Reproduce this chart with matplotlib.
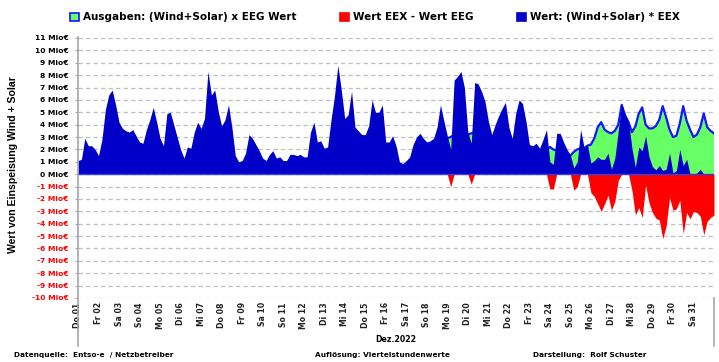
import numpy as np
import matplotlib.pyplot as plt
from matplotlib.patches import Rectangle
from matplotlib.lines import Line2D

nan = np.nan

### data (Mio EUR, 6 values per day = 4 h steps, Dez. 2022) ###
day_labels = ['Do 01', 'Fr 02', 'Sa 03', 'So 04', 'Mo 05', 'Di 06', 'Mi 07', 'Do 08',
              'Fr 09', 'Sa 10', 'So 11', 'Mo 12', 'Di 13', 'Mi 14', 'Do 15', 'Fr 16',
              'Sa 17', 'So 18', 'Mo 19', 'Di 20', 'Mi 21', 'Do 22', 'Fr 23', 'Sa 24',
              'So 25', 'Mo 26', 'Di 27', 'Mi 28', 'Do 29', 'Fr 30', 'Sa 31']
steps_per_day = 6

# Wert: (Wind+Solar) * EEX
eex_mio = [
    1.1, 1.2, 2.9, 2.3, 2.3, 2.0,
    1.5, 2.8, 5.2, 6.4, 6.8, 5.6,
    4.2, 3.7, 3.5, 3.4, 3.6, 3.1,
    2.6, 2.5, 3.6, 4.4, 5.4, 4.2,
    2.9, 2.3, 4.9, 5.0, 4.0, 3.0,
    2.0, 1.3, 2.2, 2.1, 3.4, 4.2,
    3.7, 4.5, 8.3, 6.4, 6.8, 5.1,
    3.9, 4.4, 5.6, 3.8, 1.5, 1.0,
    1.1, 1.7, 3.2, 2.9, 2.4, 1.9,
    1.3, 1.1, 1.6, 1.9, 1.3, 1.4,
    1.1, 1.1, 1.6, 1.6, 1.5, 1.6,
    1.4, 1.4, 3.4, 4.2, 2.6, 2.7,
    2.1, 2.2, 4.4, 6.3, 8.8, 6.8,
    4.5, 4.8, 6.7, 3.8, 3.5, 3.2,
    3.2, 3.9, 6.0, 5.0, 5.0, 5.6,
    2.6, 2.6, 3.1, 2.3, 1.0, 0.85,
    1.1, 1.4, 2.4, 3.0, 3.3, 2.9,
    2.6, 2.7, 2.9, 3.8, 5.6, 4.3,
    3.1, 2.0, 7.6, 7.9, 8.3, 7.0,
    3.4, 2.5, 7.4, 7.3, 6.7, 5.9,
    4.3, 3.2, 4.0, 4.7, 5.3, 5.8,
    3.8, 2.9, 4.9, 6.0, 5.7, 4.3,
    2.4, 2.3, 2.5, 2.1, 2.8, 3.6,
    1.0, 0.8, 3.3, 3.3, 2.6, 2.0,
    1.55, 0.5, 1.0, 3.6, 2.15, 2.35,
    0.9, 1.1, 1.4, 1.2, 1.2, 1.7,
    0.4, 1.3, 3.5, 5.7, 4.9, 4.3,
    2.1, 0.55, 2.2, 1.9, 3.1, 1.4,
    0.6, 0.35, 0.7, 0.3, 0.4, 1.7,
    0.1, 0.3, 2.0, 0.7, 1.2, 0.0,
    0.0, 0.1, 0.4, 0.0, 0.0, 0.0,
    0.0]

# Ausgaben: (Wind+Solar) x EEG Wert  (nan = hidden behind the blue area)
eeg_mio = [
    nan, nan, nan, nan, nan, nan,
    nan, nan, nan, nan, nan, nan,
    nan, nan, nan, nan, nan, nan,
    nan, nan, nan, nan, nan, nan,
    nan, nan, nan, nan, nan, nan,
    nan, nan, nan, nan, nan, nan,
    nan, nan, nan, nan, nan, nan,
    nan, nan, nan, nan, nan, nan,
    nan, nan, nan, nan, nan, nan,
    nan, nan, nan, nan, nan, nan,
    nan, nan, nan, nan, nan, nan,
    nan, nan, nan, nan, nan, nan,
    nan, nan, nan, nan, nan, nan,
    nan, nan, nan, nan, nan, nan,
    nan, nan, nan, nan, nan, nan,
    nan, nan, nan, nan, nan, nan,
    nan, nan, nan, nan, nan, nan,
    nan, nan, nan, nan, nan, nan,
    2.9, 3.0, 3.2, nan, nan, nan,
    3.2, 3.3, 3.4, nan, nan, nan,
    nan, nan, nan, nan, nan, nan,
    nan, nan, nan, nan, nan, nan,
    nan, nan, nan, 1.8, 1.8, 1.9,
    2.2, 2.0, 1.9, 1.8, 1.7, 1.6,
    1.5, 1.8, 2.0, 2.1, 2.1, 2.3,
    2.4, 2.9, 3.8, 4.2, 3.6, 3.4,
    3.3, 3.5, 4.0, 5.6, 4.7, 4.2,
    3.4, 3.85, 4.9, 5.4, 4.0, 3.7,
    3.7, 3.9, 4.4, 5.5, 4.6, 3.6,
    3.0, 3.1, 4.1, 5.5, 4.3, 3.6,
    3.0, 3.2, 3.8, 4.9, 3.8, 3.5,
    3.3]

ytick_vals = list(range(-10, 12))

### colours ###
c_blue = '#0000C8'
c_line = '#1414FF'
c_green = '#66FF66'
c_red = '#FF0000'
c_grid = '#BFBFBF'
c_axis = '#A6A6A6'

### program ###
t = np.arange(len(eex_mio)) / steps_per_day
eex = np.array(eex_mio)
eeg = np.array(eeg_mio)
diff = np.where(np.isnan(eeg), 0.0, np.minimum(eex - np.nan_to_num(eeg), 0.0))

fig = plt.figure(figsize=(7.19, 3.62), dpi=100)
ax = fig.add_axes([78/719, 1-298/362, (714-78)/719, (298-38)/362])

for v in ytick_vals:
    ax.axhline(v, color=c_grid, lw=0.9, ls=(0, (3.5, 2.5)), zorder=0)

ax.fill_between(t, 0, eeg, color=c_green, lw=0, zorder=1)
ax.plot(t, eeg, color=c_line, lw=1.6, zorder=2)
ax.fill_between(t, 0, eex, color=c_blue, lw=0, zorder=3)
ax.fill_between(t, 0, diff, color=c_red, lw=0, zorder=4)
ax.axhline(0, color='#3C3CD8', lw=1.0, zorder=5)

ax.set_xlim(0, len(day_labels))
ax.set_ylim(-10, 11)
for s in ['top', 'right', 'bottom', 'left']:
    ax.spines[s].set_visible(False)

ax.set_yticks(ytick_vals)
ax.set_yticklabels(['%d Mio€' % v for v in ytick_vals], fontsize=5.4, fontweight='bold')
for lab, v in zip(ax.get_yticklabels(), ytick_vals):
    lab.set_color(c_red if v < 0 else 'black')
ax.tick_params(axis='y', length=2, width=0.8, color=c_axis, pad=5)

ax.set_xticks(range(len(day_labels)))
ax.set_xticklabels(day_labels, rotation=90, fontsize=5.6, fontweight='bold', color='#222222')
ax.tick_params(axis='x', length=0, pad=3)

# axis frame lines like the original
fig.add_artist(Line2D([78/719, 78/719], [1-37/362, 1-346/362], color=c_axis, lw=1.2))
fig.add_artist(Line2D([714/719, 714/719], [1-298/362, 1-346/362], color=c_axis, lw=1.2))

fig.text(0.018, 1-165/362, 'Wert von Einspeisung Wind + Solar', rotation=90, ha='center',
         va='center', fontsize=7.6, fontweight='bold', family=['Liberation Sans', 'DejaVu Sans'])

# legend
leg = [(70, c_green, c_line, 'Ausgaben: (Wind+Solar) x EEG Wert'),
       (340, c_red, c_red, 'Wert EEX - Wert EEG'),
       (517, c_blue, c_blue, 'Wert: (Wind+Solar) * EEX')]
for x0, fc, ec, txt in leg:
    fig.add_artist(Rectangle((x0/719, 1-21/362), 9/719, 8/362, transform=fig.transFigure,
                             facecolor=fc, edgecolor=ec, lw=1.2))
    fig.text((x0+13)/719, 1-17/362, txt, ha='left', va='center', fontsize=7.5, fontweight='bold')

fig.text(375/719, 1-340/362, 'Dez.2022', ha='left', va='center', fontsize=5.6, fontweight='bold')
fig.text(14/719, 1-355/362, 'Datenquelle:  Entso-e  / Netzbetreiber', ha='left', va='center',
         fontsize=5.3, fontweight='bold')
fig.text(315/719, 1-355/362, 'Auflösung: Viertelstundenwerte', ha='left', va='center',
         fontsize=5.3, fontweight='bold')
fig.text(533/719, 1-355/362, 'Darstellung:  Rolf Schuster', ha='left', va='center',
         fontsize=5.3, fontweight='bold')

fig.savefig('out.png', dpi=100)
plt.close()
